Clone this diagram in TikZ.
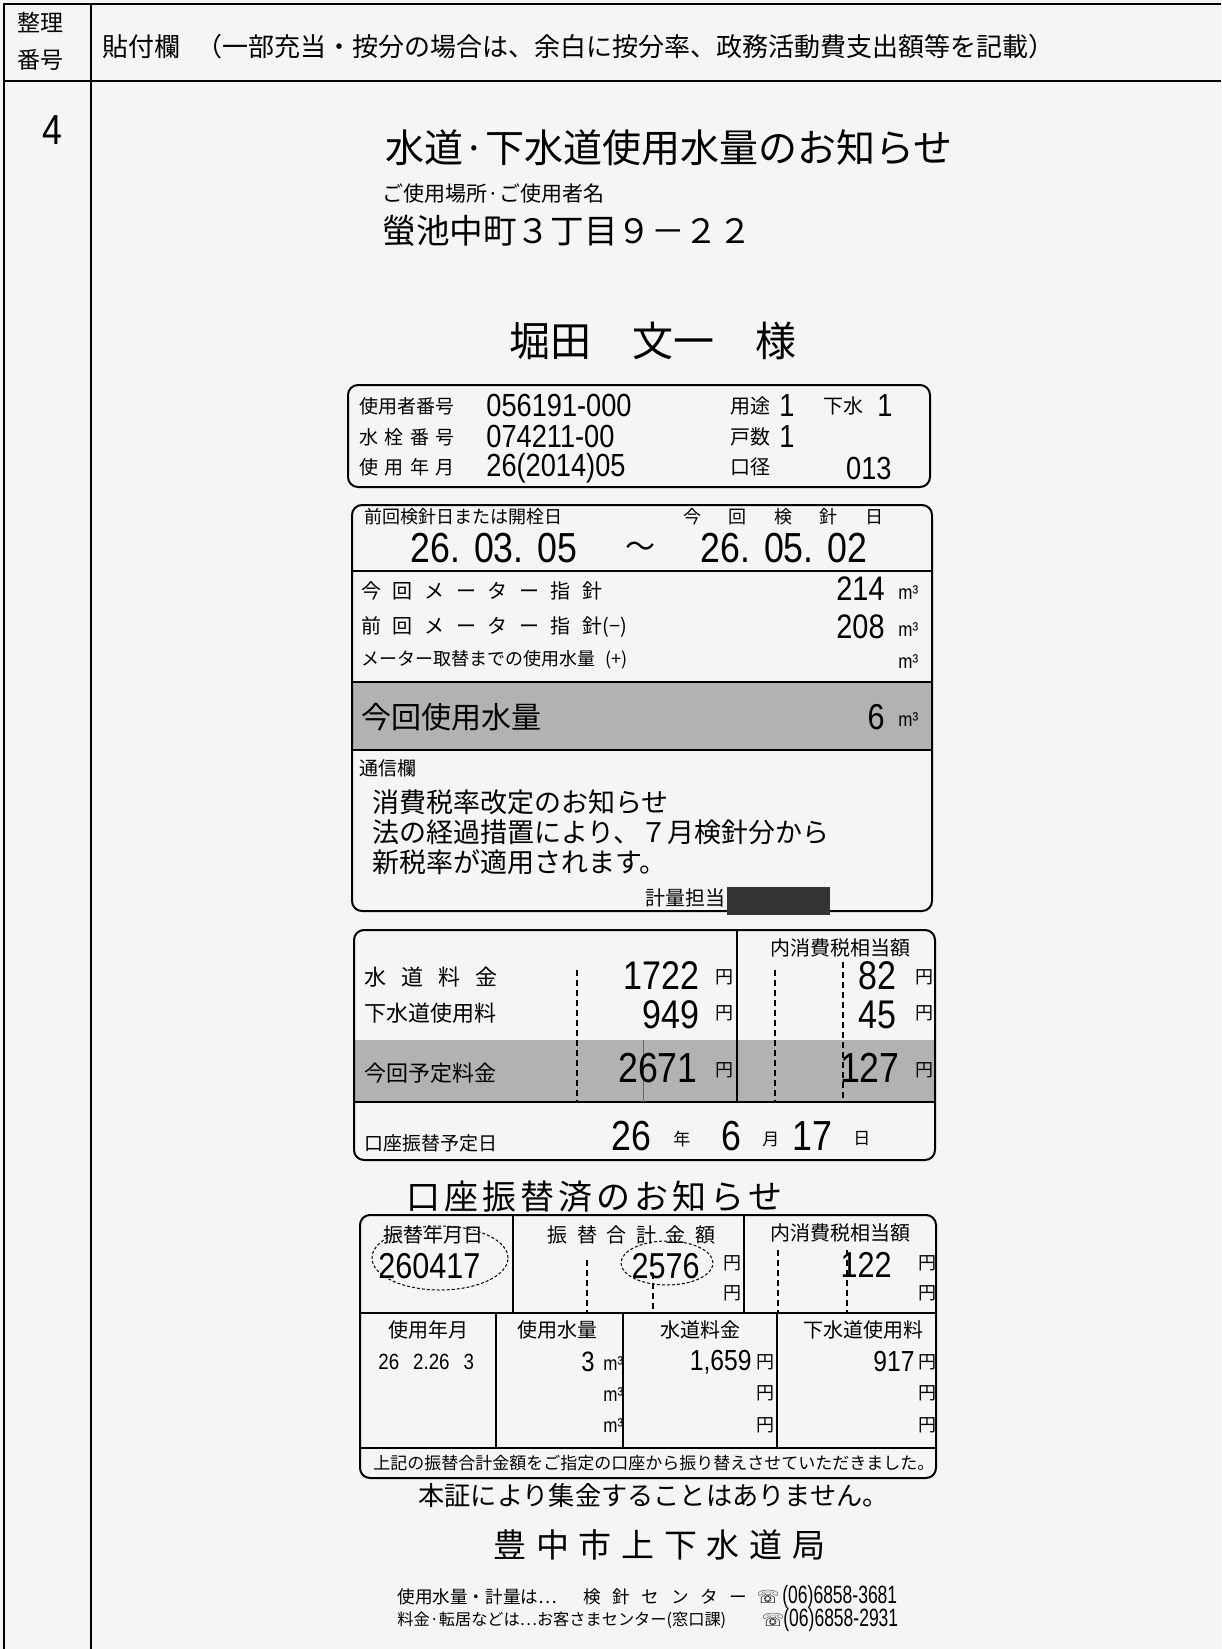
\documentclass[tikz,border=0pt]{standalone}
\usepackage{fontspec}
\setmainfont{Noto Sans CJK JP}
\newfontfamily\numfont[FakeStretch=0.85]{Liberation Sans}
\newfontfamily\numnarrow[FakeStretch=0.7]{Liberation Sans}
\newfontfamily\telfont{DejaVu Sans}
\newcommand{\fsz}[1]{\fontsize{#1}{#1}\selectfont}
\newcommand{\spread}[2]{\makebox[#1][s]{#2}}
\tikzstyle{txt}=[inner sep=0pt, anchor=west]
\tikzstyle{rtxt}=[inner sep=0pt, anchor=east]
\tikzstyle{ctxt}=[inner sep=0pt]
\tikzstyle{yen}=[txt, font=\fsz{9pt}]
\tikzstyle{unit}=[txt, font=\numfont\fsz{10pt}]
\tikzstyle{box}=[draw, line width=1pt, rounded corners=5pt]
\tikzstyle{frame}=[draw, line width=1pt]
\tikzstyle{rule}=[draw, line width=0.9pt]
\tikzstyle{dashrule}=[draw, line width=0.6pt, dash pattern=on 3pt off 2pt]
\tikzstyle{band}=[fill=black!30]
\tikzstyle{hand}=[draw, line width=0.5pt, dash pattern=on 1.5pt off 1pt]
\newcommand{\yen}[1]{node (y#1) [yen] {円}}
\newcommand{\cubic}[1]{node (m#1) [unit] {m³}}

\begin{document}
\begin{tikzpicture}[x=0.5pt,y=-0.5pt]
  \useasboundingbox (0,0) rectangle (1221,1649);
  \fill[black!4] (0,0) rectangle (1221,1649);

  % Draw sheet frame
  \path[frame] (4,1649) -- (4,4) -- (1221,4);
  \path[frame] (4,81) -- (1221,81);
  \path[frame] (91,4) -- (91,1649);
  \node[ctxt] (seiri) at (41,23) {\fsz{11.5pt}整理};
  \node[ctxt] (bango) at (41,60) {\fsz{11.5pt}番号};
  \node[txt] (hari) at (102,47) {\fsz{13pt}貼付欄};
  \node[txt] (chuki) at (196,47) {\fsz{13pt}（一部充当・按分の場合は、余白に按分率、政務活動費支出額等を記載）};
  \node[ctxt] (seiriv) at (52,130) {\numfont\fsz{21pt}4};

  % Draw notice heading
  \node[txt] (title) at (385,148) {\fsz{19.5pt}水道·下水道使用水量のお知らせ};
  \node[txt] (basho) at (382,194) {\fsz{10.5pt}ご使用場所·ご使用者名};
  \node[txt] (jusho) at (382,231) {\fsz{16.8pt}螢池中町３丁目９－２２};
  \node[txt] (namae) at (509,341) {\fsz{20.5pt}堀田　文一　様};

  % Draw customer box
  \path[box] (348,385) rectangle (930,487);
  \node[txt] (l1) at (359,406) {\fsz{9.5pt}\spread{47.5pt}{使\hfill 用\hfill 者\hfill 番\hfill 号}};
  \node[txt] (l2) at (359,437) {\fsz{9.5pt}\spread{47.5pt}{水\hfill 栓\hfill 番\hfill 号}};
  \node[txt] (l3) at (359,467) {\fsz{9.5pt}\spread{47.5pt}{使\hfill 用\hfill 年\hfill 月}};
  \node[txt] (v1) at (486,405) {\numfont\fsz{16pt}056191-000};
  \node[txt] (v2) at (486,436) {\numfont\fsz{16pt}074211-00};
  \node[txt] (v3) at (486,468) {\numfont\fsz{16pt}26(2014)05};
  \node[txt] (yoto) at (730,406) {\fsz{10pt}用途};
  \node[ctxt] (yotov) at (787,405) {\numfont\fsz{16pt}1};
  \node[txt] (gesui) at (823,406) {\fsz{10pt}下水};
  \node[ctxt] (gesuiv) at (885,405) {\numfont\fsz{16pt}1};
  \node[txt] (kosu) at (730,437) {\fsz{10pt}戸数};
  \node[ctxt] (kosuv) at (787,436) {\numfont\fsz{16pt}1};
  \node[txt] (kokei) at (730,467) {\fsz{10pt}口径};
  \node[rtxt] (kokeiv) at (892,468) {\numfont\fsz{16pt}013};

  % Draw meter box
  \fill[band] (352,682) rectangle (932,750);
  \path[box] (352,505) rectangle (932,911);
  \path[rule] (352,571) -- (932,571);
  \path[rule] (352,682) -- (932,682);
  \path[rule] (352,750) -- (932,750);
  \node[txt] (zenkai) at (364,517) {\fsz{9pt}前回検針日または開栓日};
  \node[txt] (konkai) at (683,517) {\fsz{9pt}\spread{100pt}{今\hfill 回\hfill 検\hfill 針\hfill 日}};
  \node[txt] (d1) at (410,548) {\numfont\fsz{21pt}26.\hspace{7pt}03.\hspace{7pt}05};
  \node[ctxt] (kara) at (640,550) {\fsz{15pt}～};
  \node[txt] (d2) at (700,548) {\numfont\fsz{21pt}26.\hspace{7pt}05.\hspace{7pt}02};
  \node[txt] (r1) at (361,591) {\fsz{10pt}\spread{120.5pt}{今\hfill 回\hfill メ\hfill ー\hfill タ\hfill ー\hfill 指\hfill 針}};
  \node[txt] (r2) at (361,627) {\fsz{10pt}\spread{120.5pt}{前\hfill 回\hfill メ\hfill ー\hfill タ\hfill ー\hfill 指\hfill 針}(−)};
  \node[txt] (r3) at (361,660) {\fsz{9pt}メーター取替までの使用水量\hspace{5pt}(+)};
  \node[rtxt] (r1v) at (885,589) {\numfont\fsz{17pt}214};
  \node[rtxt] (r2v) at (885,627) {\numfont\fsz{17pt}208};
  \path (898,593) \cubic{1};
  \path (898,630) \cubic{2};
  \path (898,662) \cubic{3};
  \node[txt] (shiyo) at (361,717) {\fsz{15pt}今回使用水量};
  \node[rtxt] (shiyov) at (885,717) {\numfont\fsz{18pt}6};
  \path (898,720) \cubic{4};
  \node[txt] (tsushin) at (359,768) {\fsz{9.5pt}通信欄};
  \node[txt] (msg1) at (372,802) {\fsz{13.5pt}消費税率改定のお知らせ};
  \node[txt] (msg2) at (372,832) {\fsz{13.5pt}法の経過措置により、７月検針分から};
  \node[txt] (msg3) at (372,862) {\fsz{13.5pt}新税率が適用されます。};
  \node[txt] (keiryo) at (645,898) {\fsz{10pt}計量担当};
  \fill[black!80] (727,887) rectangle (830,915);

  % Draw charge box
  \fill[band] (354,1040) rectangle (935,1102);
  \path[box] (354,930) rectangle (935,1160);
  \path[rule] (354,1102) -- (935,1102);
  \path[rule] (737,930) -- (737,1102);
  \path[dashrule] (577,970) -- (577,1102);
  \path[dashrule] (775,970) -- (775,1102);
  \path[dashrule] (843,962) -- (843,1102);
  \path[draw, line width=0.4pt, black!60] (643,1040) -- (643,1102);
  \node[txt] (suido) at (364,977) {\fsz{11pt}\spread{66.5pt}{水\hfill 道\hfill 料\hfill 金}};
  \node[txt] (gesuido) at (364,1013) {\fsz{11pt}下水道使用料};
  \node[txt] (naisho) at (770,948) {\fsz{10pt}内消費税相当額};
  \node[rtxt] (c1) at (700,976) {\numfont\fsz{20pt}1722};
  \node[rtxt] (c2) at (700,1015) {\numfont\fsz{20pt}949};
  \node[rtxt] (t1) at (897,976) {\numfont\fsz{20pt}82};
  \node[rtxt] (t2) at (897,1015) {\numfont\fsz{20pt}45};
  \path (715,977) \yen{1};
  \path (715,1013) \yen{2};
  \path (915,977) \yen{3};
  \path (915,1013) \yen{4};
  \node[txt] (yotei) at (364,1073) {\fsz{11pt}今回予定料金};
  \node[rtxt] (c3) at (698,1068) {\numfont\fsz{21pt}2671};
  \node[rtxt] (t3) at (900,1068) {\numfont\fsz{21pt}127};
  \path (715,1070) \yen{5};
  \path (915,1070) \yen{6};
  \node[txt] (furikae) at (364,1143) {\fsz{9.5pt}口座振替予定日};
  \node[rtxt] (fy) at (652,1136) {\numfont\fsz{21pt}26};
  \node[txt] (nen) at (673,1139) {\fsz{8.5pt}年};
  \node[ctxt] (fm) at (731,1136) {\numfont\fsz{21pt}6};
  \node[txt] (tsuki) at (762,1139) {\fsz{8.5pt}月};
  \node[txt] (fd) at (792,1136) {\numfont\fsz{21pt}17};
  \node[txt] (hi) at (853,1139) {\fsz{8.5pt}日};

  % Draw transfer box
  \node[txt] (sumi) at (406,1197) {\fsz{17pt}\spread{188pt}{口\hfill 座\hfill 振\hfill 替\hfill 済\hfill の\hfill お\hfill 知\hfill ら\hfill せ}};
  \path[box] (360,1215) rectangle (936,1478);
  \path[rule] (360,1313) -- (936,1313);
  \path[rule] (360,1448) -- (936,1448);
  \path[rule] (513,1215) -- (513,1313);
  \path[rule] (744,1215) -- (744,1313);
  \path[rule] (496,1313) -- (496,1448);
  \path[rule] (623,1313) -- (623,1448);
  \path[rule] (777,1313) -- (777,1448);
  \path[dashrule] (587,1260) -- (587,1313);
  \path[dashrule] (653,1273) -- (653,1313);
  \path[dashrule] (778,1250) -- (778,1313);
  \path[dashrule] (847,1250) -- (847,1313);
  \node[txt] (fnen) at (383,1235) {\fsz{10pt}振替年月日};
  \node[txt] (fgokei) at (547,1235) {\fsz{10pt}\spread{84pt}{振\hfill 替\hfill 合\hfill 計\hfill 金\hfill 額}};
  \node[txt] (naisho2) at (770,1233) {\fsz{10pt}内消費税相当額};
  \node[txt] (fnenv) at (378,1266) {\numfont\fsz{18pt}260417};
  \node[rtxt] (fgokeiv) at (700,1266) {\numfont\fsz{18pt}2576};
  \node[rtxt] (naisho2v) at (892,1265) {\numfont\fsz{18pt}122};
  \path[hand] (440,1258) ellipse [x radius=34pt, y radius=16pt];
  \path[hand] (667,1263) ellipse [x radius=23pt, y radius=11pt];
  \path (723,1263) \yen{7};
  \path (723,1293) \yen{8};
  \path (918,1263) \yen{9};
  \path (918,1293) \yen{10};
  \node[txt] (snen) at (388,1330) {\fsz{10pt}使用年月};
  \node[txt] (sryo) at (517,1330) {\fsz{10pt}使用水量};
  \node[txt] (sryokin) at (660,1330) {\fsz{10pt}水道料金};
  \node[txt] (sgesui) at (803,1330) {\fsz{10pt}下水道使用料};
  \node[txt] (snenv) at (378,1362) {\numfont\fsz{11pt}26\hspace{7pt}2.26\hspace{7pt}3};
  \node[rtxt] (sryov) at (595,1362) {\numfont\fsz{14pt}3};
  \node[rtxt] (sryokinv) at (752,1362) {\numfont\fsz{14.5pt}1,659};
  \node[rtxt] (sgesuiv) at (915,1362) {\numfont\fsz{14.5pt}917};
  \path (603,1364) \cubic{5};
  \path (603,1395) \cubic{6};
  \path (603,1426) \cubic{7};
  \path (756,1362) \yen{11};
  \path (756,1393) \yen{12};
  \path (756,1425) \yen{13};
  \path (918,1362) \yen{14};
  \path (918,1393) \yen{15};
  \path (918,1425) \yen{16};
  \node[txt] (kaki) at (373,1463) {\fsz{8.5pt}上記の振替合計金額をご指定の口座から振り替えさせていただきました。};

  % Draw footer
  \node[txt] (honsho) at (418,1495) {\fsz{13.1pt}本証により集金することはありません。};
  \node[txt] (kyoku) at (493,1545) {\fsz{16.5pt}\spread{166pt}{豊\hfill 中\hfill 市\hfill 上\hfill 下\hfill 水\hfill 道\hfill 局}};
  \node[txt] (tel1a) at (397,1597) {\fsz{8.8pt}使用水量・計量は…};
  \node[txt] (tel1b) at (583,1597) {\fsz{8.8pt}\spread{82pt}{検\hfill 針\hfill セ\hfill ン\hfill タ\hfill ー}};
  \node[ctxt] (tel1c) at (768,1597) {\telfont\fsz{9pt}☏};
  \node[txt] (tel1d) at (782,1597) {\numnarrow\fsz{12.5pt}(06)6858-3681};
  \node[txt] (tel2a) at (397,1620) {\fsz{8.1pt}料金·転居などは…お客さまセンター(窓口課)};
  \node[ctxt] (tel2c) at (773,1620) {\telfont\fsz{9pt}☏};
  \node[txt] (tel2d) at (783,1620) {\numnarrow\fsz{12.5pt}(06)6858-2931};
\end{tikzpicture}
\end{document}
